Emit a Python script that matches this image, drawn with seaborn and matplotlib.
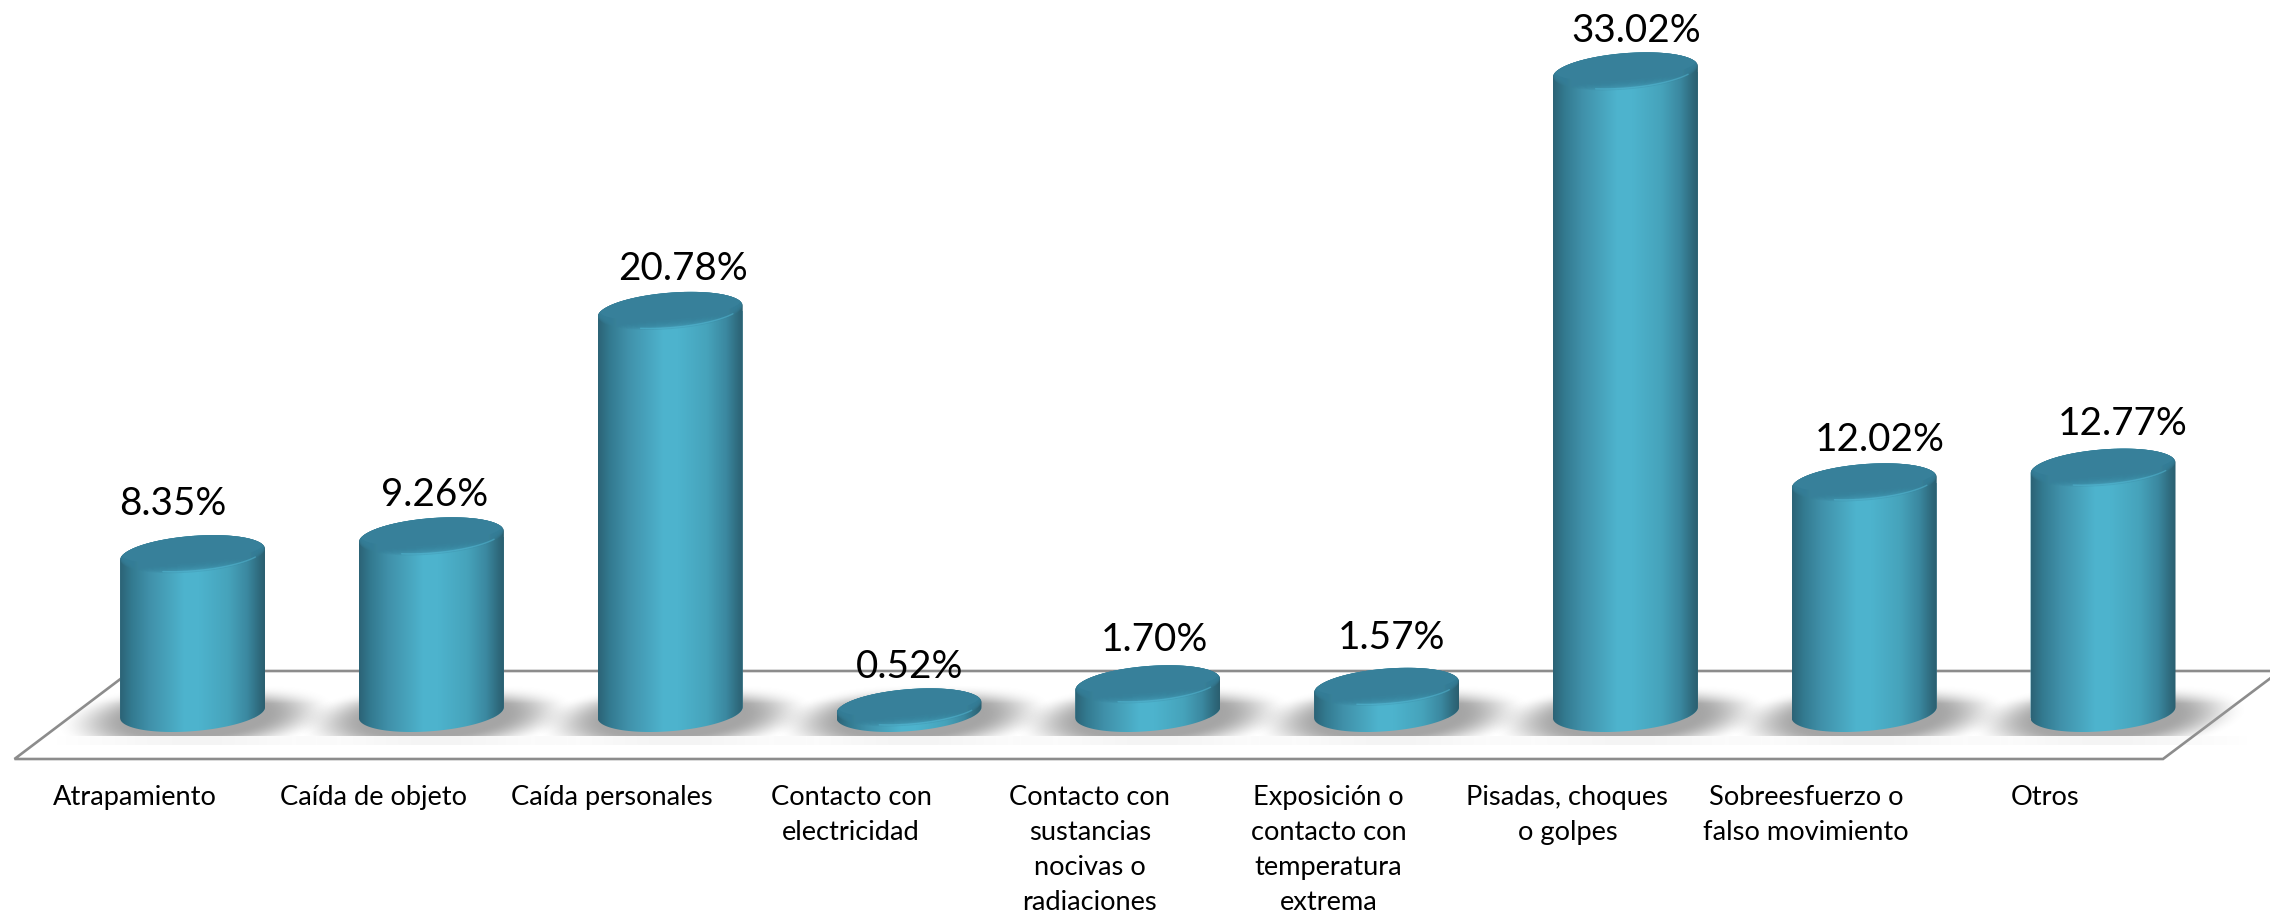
import numpy as np
import pandas as pd
import matplotlib
matplotlib.use("Agg")
import matplotlib.pyplot as plt
import seaborn as sns
from matplotlib.colors import LinearSegmentedColormap
from matplotlib.patches import PathPatch, Polygon
from matplotlib.path import Path
from matplotlib.transforms import Affine2D

# Data
categorias = ["Atrapamiento", "Caída de objeto", "Caída personales",
              "Contacto con\nelectricidad", "Contacto con\nsustancias\nnocivas o\nradiaciones",
              "Exposición o\ncontacto con\ntemperatura\nextrema", "Pisadas, choques\no golpes",
              "Sobreesfuerzo o\nfalso movimiento", "Otros"]
valores = [8.35, 9.26, 20.78, 0.52, 1.70, 1.57, 33.02, 12.02, 12.77]
etiquetas = ["8.35%", "9.26%", "20.78%", "0.52%", "1.70%", "1.57%", "33.02%", "12.02%", "12.77%"]

# Manual placement of the value labels, px from the top centre of each bar
etiqueta_dx = [-20, 3, 13, 1, 7, 5, 11, 16, 20]
etiqueta_dy = [-52, -43, -43, -42, -46, -50, -42, -44, -45]

W, H = 2270, 920
sns.set_theme(style="white")
plt.rcParams["font.family"] = ["Lato", "DejaVu Sans"]

fig = plt.figure(figsize=(W / 100, H / 100), dpi=100, facecolor="white")
ax = fig.add_axes([0, 0, 1, 1])

df = pd.DataFrame({"categoria": categorias, "valor": valores})
sns.barplot(data=df, x="categoria", y="valor", color="#46a5bf", width=145 / 238.8, ax=ax)

# Axes scale chosen so that bars land where they do in the original
ax.set_xlim((0 - 192.6) / 238.8, (W - 192.6) / 238.8)
ax.set_ylim((719 - H) / 19.57, 719 / 19.57)
ax.axis("off")

# Pixel coordinates (origin top left) for decoration
px = Affine2D().scale(1 / W, -1 / H).translate(0, 1) + fig.transFigure
to_px = ax.transData + px.inverted()

# Floor
piso = Polygon([(14.5, 760), (2163, 760), (2280, 672), (131, 672)], closed=True, facecolor="white",
               edgecolor="#8c8c8c", linewidth=1.9, transform=px, zorder=1, clip_on=False)
ax.add_patch(piso)

lado = LinearSegmentedColormap.from_list("lado", [
    (0.00, "#2c6376"), (0.08, "#337a90"), (0.20, "#4090a9"), (0.45, "#4eb4ce"),
    (0.55, "#4db3cd"), (0.75, "#46a3bb"), (0.88, "#3b88a0"), (0.96, "#2f6b7e"), (1.00, "#2b5f70")])

A = 72.5     # half width of the cylinder
B = 18.7     # half height of the ellipse
TILT = 5.5   # right end sits higher than the left end
BASE_Y = 713.5


def elipse_xy(cx, cy, a, b, t):
    return cx + a * np.cos(t), cy + b * np.sin(t) - TILT * (a / A) * np.cos(t)


def sombra(cx):
    x0, x1, y0, y1 = int(cx - 170), int(cx + 170), 684, 748
    xx, yy = np.meshgrid(np.arange(x0, x1), np.arange(y0, y1))
    cy = 718
    u = (xx - cx - 4 - 0.8 * (cy - yy)) / 126
    v = (yy - cy) / 36
    d = np.sqrt(u ** 2 + v ** 2)
    alfa = np.clip((1.08 - d) / 0.55, 0, 1)
    alfa = alfa * alfa * (3 - 2 * alfa)
    # flat cut at the bottom with a pale fringe under it
    franja = np.clip((1.15 - np.abs(xx - cx - 4) / 125), 0, 1) * 0.12 * (yy >= 737) * (yy < 746)
    alfa = alfa * (yy < 737) * np.clip((yy - 686) / 18, 0, 1) + franja
    rgba = np.zeros(alfa.shape + (4,))
    rgba[..., :3] = 0.65
    rgba[..., 3] = np.clip(alfa, 0, 1)
    ax.imshow(rgba, extent=(x0, x1, y1, y0), origin="upper", aspect="auto", transform=px,
              zorder=2, interpolation="bilinear")


for barra in ax.patches[:len(valores)]:
    x_mid = barra.get_x() + barra.get_width() / 2
    cx, top = to_px.transform((x_mid, barra.get_height()))
    mitad = barra.get_width() / 2
    a = abs(to_px.transform((x_mid + mitad, 0))[0] - cx)

    sombra(cx)

    # silhouette: upper half of top ellipse, wall, lower half of base ellipse, wall
    t_up = np.linspace(np.pi, 2 * np.pi, 60)
    t_dn = np.linspace(0, np.pi, 60)
    xu, yu = elipse_xy(cx, top, a, B, t_up)
    xd, yd = elipse_xy(cx, BASE_Y, a, B, t_dn)
    verts = np.column_stack([np.r_[xu, xd, xu[0]], np.r_[yu, yd, yu[0]]])
    silueta = Path(verts, closed=True)

    barra.set_zorder(3)
    barra.set_edgecolor("none")
    barra.set_clip_path(silueta, px)

    grad = ax.imshow(np.linspace(0, 1, 256).reshape(1, -1), cmap=lado, vmin=0, vmax=1,
                     extent=(cx - a, cx + a, BASE_Y + 22, top - 22), origin="upper", aspect="auto",
                     transform=px, zorder=3.1, interpolation="bilinear")
    grad.set_clip_path(silueta, px)

    # top face: nested ellipses moving up to the dark centre
    t = np.linspace(0, 2 * np.pi, 120)
    xt, yt = elipse_xy(cx, top, a, B, t)
    tapa_clip = Path(np.column_stack([xt, yt]), closed=True)
    pasos = 10
    for k in range(1, pasos + 1):
        f = k / pasos
        xi, yi = elipse_xy(cx, top - 4.5 * f, a - 1.5 * f, B - 4.5 * f, t)
        p = PathPatch(Path(np.column_stack([xi, yi]), closed=True), facecolor="#37809a", edgecolor="none",
                      alpha=0.22, transform=px, zorder=3.2)
        ax.add_patch(p)
        p.set_clip_path(tapa_clip, px)
    # last one closes the dark centre
    xi, yi = elipse_xy(cx, top - 5.5, a - 2, B - 5, t)
    p = PathPatch(Path(np.column_stack([xi, yi]), closed=True), facecolor="#37809a", edgecolor="none",
                  transform=px, zorder=3.25)
    ax.add_patch(p)
    p.set_clip_path(tapa_clip, px)

    # bright line on the lip
    t_b = np.linspace(0.5, 2.0, 40)
    xb, yb = elipse_xy(cx, top - 1.2, a - 1, B - 1.2, t_b)
    ax.plot(xb, yb, color="#58c0dc", lw=1.0, alpha=0.45, transform=px, zorder=3.3, solid_capstyle="round")

# Value labels
for barra, txt, dx, dy in zip(ax.patches[:len(valores)], etiquetas, etiqueta_dx, etiqueta_dy):
    x_mid = barra.get_x() + barra.get_width() / 2
    cx, top = to_px.transform((x_mid, barra.get_height()))
    ax.text(cx + dx, top + dy, txt, transform=px, ha="center", va="center", fontsize=27.8,
            color="black", zorder=5, clip_on=False)

# Category labels, shifted left because of the perspective of the floor
for i, txt in enumerate(categorias):
    cx = to_px.transform((i, 0))[0]
    ax.text(cx - 58, 785, txt, transform=px, ha="center", va="top", fontsize=19.6,
            color="black", linespacing=1.5, zorder=5, clip_on=False)

fig.savefig("out.png", dpi=100, facecolor="white")
